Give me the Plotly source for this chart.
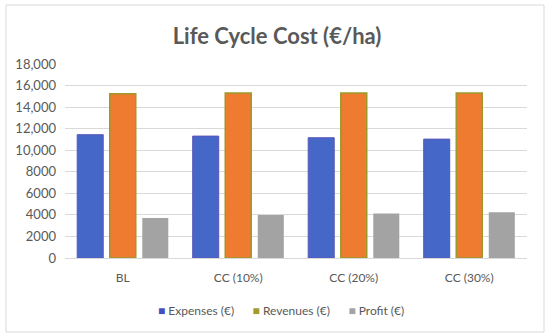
import plotly.graph_objects as go

categories = ["BL", "CC (10%)", "CC (20%)", "CC (30%)"]
expenses = [11440, 11310, 11160, 11030]
revenues = [15250, 15320, 15320, 15320]
profit = [3700, 4000, 4130, 4250]
series_names = ["Expenses (€)", "Revenues (€)", "Profit (€)"]
tick_vals = [0, 2000, 4000, 6000, 8000, 10000, 12000, 14000, 16000, 18000]
tick_text = ["0", "2000", "4000", "6000", "8000", "10,000", "12,000", "14,000", "16,000", "18,000"]

W, H = 550, 335
ml, mr, mt, mb = 65, 23, 64, 77
pw = W - ml - mr
ph = H - mt - mb

def px_to_paper_x(p):
    return (p - ml) / pw

def px_to_paper_y(p):
    return (H - mb - p) / ph

fill_colors = ["#4567C8", "#EE7B30", "#A3A3A3"]
legend_colors = ["#4350C0", "#A39A2A", "#A3A3A3"]

fig = go.Figure()
fig.add_trace(go.Bar(name=series_names[0], x=categories, y=expenses,
                     marker=dict(color=fill_colors[0], line=dict(color="#5A56B8", width=1))))
fig.add_trace(go.Bar(name=series_names[1], x=categories, y=revenues,
                     marker=dict(color=fill_colors[1], line=dict(color="#9C9A2C", width=1.5))))
fig.add_trace(go.Bar(name=series_names[2], x=categories, y=profit,
                     marker=dict(color=fill_colors[2], line=dict(width=0))))

# outer chart border
fig.add_shape(type="rect", xref="paper", yref="paper",
              x0=px_to_paper_x(6), x1=px_to_paper_x(544),
              y0=px_to_paper_y(332), y1=px_to_paper_y(5),
              line=dict(color="#D9D9D9", width=1), fillcolor="rgba(0,0,0,0)", layer="below")

# compact legend like the original
legend_text = "      ".join(
    f'<span style="color:{c}">■</span> {n}' for c, n in zip(legend_colors, series_names)
)
fig.add_annotation(text=legend_text, xref="paper", yref="paper",
                   x=px_to_paper_x(281), y=px_to_paper_y(310),
                   xanchor="center", yanchor="middle", showarrow=False,
                   font=dict(size=12, color="#595959"))

fig.update_layout(
    width=W, height=H,
    margin=dict(l=ml, r=mr, t=mt, b=mb),
    paper_bgcolor="white", plot_bgcolor="white",
    font=dict(family="Lato, 'Open Sans', sans-serif", color="#595959", size=12),
    title=dict(text="<b>Life Cycle Cost (€/ha)</b>", x=277 / W, xanchor="center",
               y=1 - 36 / H, yanchor="middle",
               font=dict(size=22, color="#595959", family="Lato, 'Open Sans', sans-serif")),
    barmode="group", bargap=0.155, bargroupgap=0.2,
    showlegend=False,
    xaxis=dict(showgrid=False, showline=True, linecolor="#D9D9D9", linewidth=1,
               ticks="", ticklabelstandoff=9, tickfont=dict(size=12, color="#595959")),
    yaxis=dict(range=[0, 18000], tickvals=tick_vals, ticktext=tick_text,
               showgrid=True, gridcolor="#D9D9D9", gridwidth=1, zeroline=False,
               showline=False, ticks="", ticklabelstandoff=8,
               tickfont=dict(size=13, color="#595959")),
)

fig.write_html("out.html", config={"displayModeBar": False},
               post_script="document.body.style.margin='0px';")
